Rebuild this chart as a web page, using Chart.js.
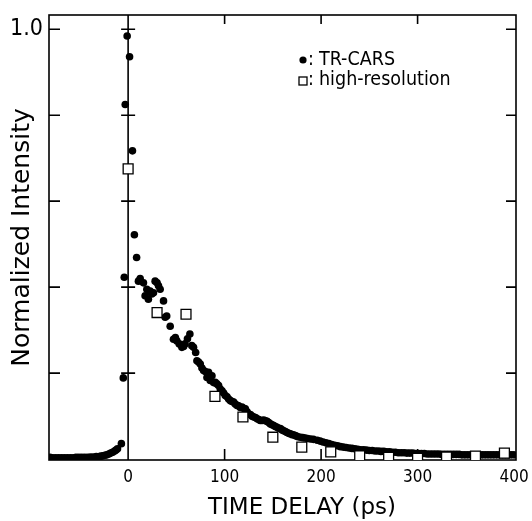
<!DOCTYPE html>
<html><head><meta charset="utf-8">
<script src="https://cdn.jsdelivr.net/npm/chart.js@4"></script>
<style>html,body{margin:0;padding:0;background:#fff}</style>
</head><body>
<canvas id="c" width="532" height="521"></canvas>
<script>
// ---- data ----
const carsDelay = [
 -81,-78,-75,-72,-69,-66,-63,-60,-57,-54,-51,-48,-45,-42,-39,-36,-33,-30,-28,-26,-24,-22,-20,-18,-16,-14,-12.5,-11,
 -7,-5,-4,-3,-1,1.5,4.5,6.5,8.8,
 10.7,12.5,15.9,17.6,19.4,21,22.8,24.5,26.3,28,30,31.5,33.2,36.7,38.4,40,43.6,47,49,50.5,53,55.7,57.5,59,61.5,64,66,67.8,70,71.3,73,74.8,76.5,78.2,80,81.7,83.4,85.1,86.9,88.6,90.3,92,93.8,95.5,97.3,99,
 100.7,102.5,104.2,106,107.7,109.4,111,112.9,114.5,116.2,118,119.8,121.5,123.3,125,126.7,128.4,130.2,132,133.7,135.4,137,138.8,140.5,142.3,144,145.7,147.4,149.2,150.9,152.6,154.3,156,157.8,159.5,161.2,163,164.7,166.4,168,170,172,174,176,178.6,181,183.5,186,189,192,196,199,
 202,205,208,211,214,217,220,223,226,229,232,235,238,241,244,247,250,253,256,259,262,265,268,271,274,277,280,283,286,289,292,295,298,
 301,304,307,310,313,316,319,322,325,328,331,334,337,340,343,346,349,352,355,358,361,364,367,370,373,376,379,382,385,388,391,394,397,400
];
const carsIntensity = [
 0.004,0.003,0.003,0.003,0.003,0.003,0.003,0.003,0.003,0.004,0.004,0.004,0.004,0.004,0.005,0.005,0.006,0.006,0.007,0.008,0.009,0.010,0.012,0.014,0.016,0.019,0.021,0.024,
 0.036,0.189,0.423,0.825,0.984,0.936,0.717,0.522,0.469,
 0.414,0.420,0.410,0.380,0.395,0.372,0.391,0.384,0.387,0.414,0.410,0.403,0.395,0.368,0.330,0.333,0.309,0.279,0.283,0.275,0.268,0.260,0.262,0.268,0.280,0.291,0.264,0.260,0.248,0.229,0.226,0.221,0.212,0.206,0.204,0.190,0.202,0.183,0.194,0.178,0.179,0.175,0.171,0.163,0.159,0.154,
 0.148,0.145,0.140,0.136,0.134,0.133,0.128,0.125,0.124,0.120,0.121,0.118,0.117,0.110,0.105,0.104,0.100,0.098,0.097,0.094,0.092,0.090,0.090,0.091,0.089,0.088,0.085,0.082,0.080,0.078,0.076,0.074,0.072,0.071,0.068,0.066,0.064,0.062,0.060,0.059,0.057,0.056,0.054,0.052,0.051,0.050,0.049,0.048,0.047,0.046,0.044,0.042,
 0.040,0.038,0.036,0.034,0.032,0.031,0.029,0.028,0.027,0.026,0.025,0.024,0.023,0.022,0.022,0.021,0.020,0.020,0.019,0.019,0.018,0.018,0.017,0.017,0.016,0.016,0.015,0.015,0.015,0.014,0.014,0.014,0.013,
 0.013,0.013,0.013,0.012,0.012,0.012,0.012,0.012,0.011,0.011,0.011,0.011,0.011,0.011,0.011,0.010,0.010,0.010,0.010,0.010,0.010,0.010,0.010,0.010,0.010,0.010,0.010,0.010,0.010,0.010,0.010,0.010,0.010,0.010
];
const hrDelay = [0,30,60,90,119,150,180,210,240,270,300,330,360,390];
const hrIntensity = [0.675,0.341,0.337,0.146,0.098,0.051,0.028,0.017,0.008,0.004,0.002,0.005,0.007,0.014];

const xTickValues = [0,100,200,300,400];
const yTickValues = [0.2,0.4,0.6,0.8,1.0];
const yLabelledTicks = [1.0];
const xTitle = 'TIME DELAY (ps)';
const yTitle = 'Normalized Intensity';
const legendItems = [['TR-CARS','dot'],['high-resolution','square']];

const X_MIN = -82, X_MAX = 402, Y_MIN = -0.002, Y_MAX = 1.033;
const SANS = '"DejaVu Sans", sans-serif';
const COND = '"DejaVu Sans Condensed", "DejaVu Sans", sans-serif';

const framePlugin = {
  id: 'frame',
  beforeDatasetsDraw(chart) {
    const {ctx, chartArea: a, scales: {x, y}} = chart;
    ctx.save();
    ctx.strokeStyle = '#000';
    ctx.lineWidth = 1.6;
    ctx.strokeRect(a.left, a.top, a.right - a.left, a.bottom - a.top);
    const x0 = x.getPixelForValue(0);
    ctx.beginPath();
    ctx.moveTo(x0, a.top); ctx.lineTo(x0, a.bottom);
    yTickValues.forEach(v => {
      const py = y.getPixelForValue(v);
      ctx.moveTo(a.left, py); ctx.lineTo(a.left + 11, py);
      ctx.moveTo(a.right, py); ctx.lineTo(a.right - 10, py);
      ctx.moveTo(x0 - 7, py); ctx.lineTo(x0 + 7, py);
    });
    xTickValues.forEach(v => {
      if (v <= 0 || v >= 400) return;
      const px = x.getPixelForValue(v);
      ctx.moveTo(px, a.bottom); ctx.lineTo(px, a.bottom - 11);
      ctx.moveTo(px, a.top); ctx.lineTo(px, a.top + 9);
    });
    ctx.stroke();
    ctx.restore();
  },
  afterDraw(chart) {
    const {ctx} = chart;
    ctx.save();
    ctx.fillStyle = '#000';
    ctx.strokeStyle = '#000';
    // x title
    ctx.font = '23px ' + SANS;
    ctx.textAlign = 'center';
    ctx.textBaseline = 'middle';
    ctx.fillText(xTitle, 302, 508);
    // legend
    ctx.font = '19.5px ' + COND;
    ctx.textAlign = 'left';
    legendItems.forEach((it, i) => {
      const cy = 60 + i * 20;
      if (it[1] === 'dot') {
        ctx.beginPath(); ctx.arc(303, cy, 3.6, 0, Math.PI * 2); ctx.fill();
      } else {
        ctx.lineWidth = 1.3;
        ctx.strokeRect(299, cy - 3, 8, 8);
      }
      ctx.fillText(':', 308, cy);
      ctx.fillText(it[0], 319, cy);
    });
    ctx.restore();
  }
};

new Chart(document.getElementById('c'), {
  type: 'scatter',
  data: {
    datasets: [
      {
        label: 'high-resolution',
        data: hrDelay.map((d, i) => ({x: d, y: hrIntensity[i]})),
        pointStyle: 'rect', pointRadius: 7, backgroundColor: '#fff',
        borderColor: '#000', borderWidth: 1.3
      },
      {
        label: 'TR-CARS',
        data: carsDelay.map((d, i) => ({x: d, y: carsIntensity[i]})),
        pointStyle: 'circle', pointRadius: 3.8, backgroundColor: '#000',
        borderColor: '#000', borderWidth: 0
      }
    ]
  },
  options: {
    responsive: false, animation: false, devicePixelRatio: 1,
    layout: {padding: {top: 15, right: 16, left: 0, bottom: 0}},
    plugins: {legend: {display: false}, tooltip: {enabled: false}},
    scales: {
      x: {
        type: 'linear', min: X_MIN, max: X_MAX,
        afterBuildTicks: s => { s.ticks = xTickValues.map(v => ({value: v})); },
        afterFit: s => { s.height = 61; s.paddingLeft = 0; s.paddingRight = 0; },
        grid: {display: false, drawTicks: false}, border: {display: false},
        ticks: {font: {family: COND, size: 17}, color: '#000', padding: 7, maxRotation: 0, autoSkip: false}
      },
      y: {
        type: 'linear', min: Y_MIN, max: Y_MAX,
        afterBuildTicks: s => { s.ticks = yTickValues.map(v => ({value: v})); },
        afterFit: s => { s.width = 49; s.paddingTop = 0; s.paddingBottom = 0; },
        grid: {display: false, drawTicks: false}, border: {display: false},
        ticks: {
          callback: v => yLabelledTicks.some(t => Math.abs(t - v) < 1e-9) ? v.toFixed(1) : '',
          font: {family: COND, size: 23}, color: '#000', padding: 6, autoSkip: false
        },
        title: {display: true, text: yTitle, color: '#000', font: {family: SANS, size: 25}, padding: {top: 7, bottom: 0}}
      }
    }
  },
  plugins: [framePlugin]
});
</script>
</body></html>
